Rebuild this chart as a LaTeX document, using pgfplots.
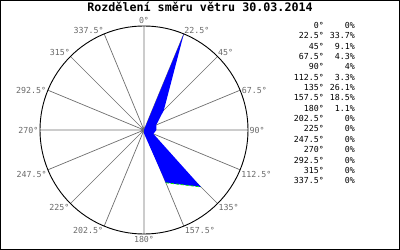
\documentclass[border=0pt]{standalone}
\usepackage{pgfplots}
\pgfplotsset{compat=1.18}
\usepgfplotslibrary{polar}
\usepackage{fontspec}
\setmainfont{DejaVu Sans Mono}
\definecolor{spoke}{RGB}{110,110,110}
\definecolor{lbl}{RGB}{105,105,105}
\tikzset{dl/.style={font=\fontsize{8.3bp}{10bp}\selectfont, text=lbl}}
\begin{document}
\begin{tikzpicture}
\useasboundingbox (0,0) rectangle (400bp,250bp);
\draw[black, line width=1bp] (0.5bp,0.5bp) rectangle (399.5bp,249.5bp);
\node[anchor=base, inner sep=0] at (200bp,238bp) {\fontsize{11.7bp}{14bp}\selectfont\bfseries Rozdělení směru větru 30.03.2014};
\begin{polaraxis}[
  at={(144bp,120bp)}, anchor=center,
  scale only axis, width=208bp, height=208bp,
  xmin=0, xmax=360, ymin=0, ymax=33.7,
  xtick={0,22.5,...,337.5}, xticklabels={},
  ytick=\empty,
  xmajorgrids, ymajorgrids=false,
  major grid style={spoke, line width=0.7bp},
  major tick length=0pt,
  x axis line style={black, line width=0.9bp},
  y axis line style={draw=none},
  clip=false,
]
\addplot[fill=blue, draw=none] coordinates {
  (90,0) (67.5,33.7) (45,9.1) (22.5,4.3) (0,4) (337.5,3.3) (315,26.1) (292.5,18.5)
  (270,1.1) (247.5,0) (225,0) (202.5,0) (180,0) (157.5,0) (135,0) (112.5,0)} -- cycle;
\addplot[color={rgb,255:red,0;green,230;blue,0}, line width=0.8bp, dash pattern=on 3bp off 2bp] coordinates {(292.5,18.5) (315,26.1)};
\node[dl, anchor=south, inner sep=2bp] at (axis cs:90,33.7) {0°};
\node[dl, anchor=south west, inner sep=0.5bp] at (axis cs:67.5,33.7) {22.5°};
\node[dl, anchor=south west, inner sep=0.5bp] at (axis cs:45,33.7) {45°};
\node[dl, anchor=west, inner sep=1.5bp] at (axis cs:22.5,33.7) {67.5°};
\node[dl, anchor=west, inner sep=1.5bp] at (axis cs:0,33.7) {90°};
\node[dl, anchor=north west, inner sep=1bp] at (axis cs:337.5,33.7) {112.5°};
\node[dl, anchor=north west, inner sep=1bp] at (axis cs:315,33.7) {135°};
\node[dl, anchor=north west, inner sep=1bp] at (axis cs:292.5,33.7) {157.5°};
\node[dl, anchor=north, inner sep=2bp] at (axis cs:270,33.7) {180°};
\node[dl, anchor=north east, inner sep=1bp] at (axis cs:247.5,33.7) {202.5°};
\node[dl, anchor=north east, inner sep=1bp] at (axis cs:225,33.7) {225°};
\node[dl, anchor=north east, inner sep=1bp] at (axis cs:202.5,33.7) {247.5°};
\node[dl, anchor=east, inner sep=1.5bp] at (axis cs:180,33.7) {270°};
\node[dl, anchor=east, inner sep=1.5bp] at (axis cs:157.5,33.7) {292.5°};
\node[dl, anchor=south east, inner sep=0.5bp] at (axis cs:135,33.7) {315°};
\node[dl, anchor=south east, inner sep=0.5bp] at (axis cs:112.5,33.7) {337.5°};
\end{polaraxis}
\foreach \d/\p [count=\i from 0] in {0°/0\%,22.5°/33.7\%,45°/9.1\%,67.5°/4.3\%,90°/4\%,112.5°/3.3\%,135°/26.1\%,157.5°/18.5\%,180°/1.1\%,202.5°/0\%,225°/0\%,247.5°/0\%,270°/0\%,292.5°/0\%,315°/0\%,337.5°/0\%}{
  \pgfmathsetmacro{\yy}{250-25.3-10.37*\i-3}
  \node[anchor=base east, inner sep=0, font=\fontsize{8.3bp}{10bp}\selectfont] at (324bp,\yy bp) {\d};
  \node[anchor=base east, inner sep=0, font=\fontsize{8.3bp}{10bp}\selectfont] at (355bp,\yy bp) {\p};
}
\end{tikzpicture}
\end{document}
